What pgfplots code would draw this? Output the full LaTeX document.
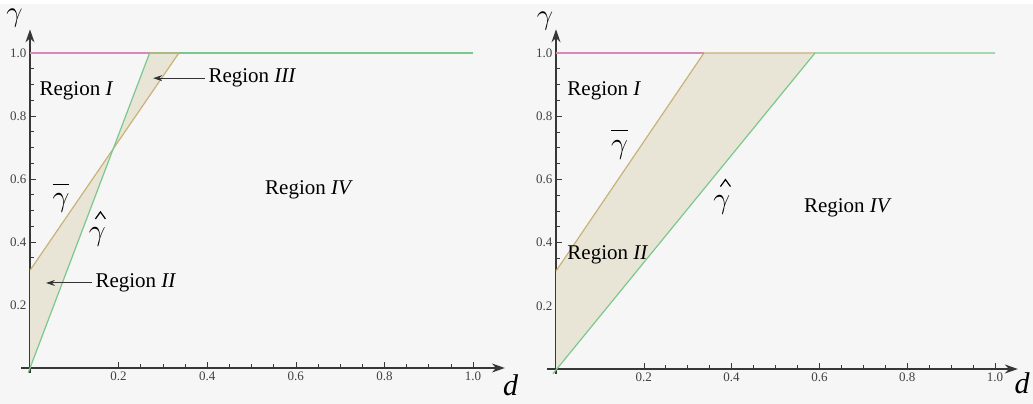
\documentclass[border=0pt]{standalone}
\usepackage{fontspec}
\setmainfont{Liberation Serif}
\usepackage{pgfplots}
\pgfplotsset{compat=1.18}
\usetikzlibrary{arrows.meta}
\definecolor{bg}{RGB}{246,246,246}
\definecolor{regfill}{RGB}{233,229,214}
\definecolor{tanline}{RGB}{200,178,122}
\definecolor{grnline}{RGB}{122,200,142}
\definecolor{pnkline}{RGB}{212,140,182}
\definecolor{axcol}{RGB}{55,55,55}
\newcommand{\gbar}{\scalebox{1.45}{$\overline{\vphantom{l}\gamma}$}}
\newcommand{\gam}{\scalebox{1.45}{$\gamma$}}
\tikzset{
  reg/.style={font=\fontsize{21}{24}\selectfont},
  gl/.style={font=\fontsize{20}{20}\selectfont, inner sep=0pt},
  hatmark/.style={line width=1.2pt, line join=miter, black},
}
\pgfplotsset{
  regionax/.style={
    axis lines=middle, clip=false,
    ymin=-0.015, ymax=1.075,
    axis line style={draw=axcol, line width=1.6pt},
    every inner x axis line/.append style={-{Stealth[length=13pt,width=9pt]}},
    every inner y axis line/.append style={-{Stealth[length=13pt,width=9pt]}},
    xtick={0.2,0.4,0.6,0.8,1.0}, ytick={0.2,0.4,0.6,0.8,1.0},
    minor x tick num=3, minor y tick num=3,
    tick align=inside,
    major tick length=6pt, minor tick length=3.5pt,
    every tick/.style={axcol, line width=0.6pt},
    tick label style={font=\fontsize{13}{13}\selectfont, text=black!75},
    /pgf/number format/assume math mode=true,
    /pgf/number format/fixed,
    /pgf/number format/fixed zerofill,
    /pgf/number format/precision=1,
  },
}
\begin{document}
\begin{tikzpicture}[x=1pt,y=1pt]
\fill[bg] (0,0) rectangle (1033,400);
\useasboundingbox (0,0) rectangle (1033,404);
% left panel
\begin{axis}[regionax, at={(30pt,36pt)}, anchor=origin,
  x=443pt, y=315pt, xmin=-0.02, xmax=1.072]
\addplot[fill=regfill, draw=none] coordinates {(0,0) (0,0.31) (0.186,0.69) (0,0)};
\addplot[fill=regfill, draw=none] coordinates {(0.186,0.69) (0.27,1) (0.336,1) (0.186,0.69)};
\addplot[tanline, line width=1.2pt] coordinates {(0,0.31) (0.336,1)};
\addplot[grnline, line width=1.2pt] coordinates {(-0.004,-0.015) (0.27,1)};
\addplot[pnkline, line width=1.2pt] coordinates {(0,1) (0.27,1)};
\addplot[tanline!60!grnline, line width=1.2pt] coordinates {(0.27,1) (0.336,1)};
\addplot[grnline, line width=1.2pt] coordinates {(0.336,1) (1,1)};
\node[reg] at (axis cs:0.105,0.88) {Region \textit{I}};
\node[reg, anchor=west] at (axis cs:0.395,0.92) {Region \textit{III}};
\draw[-{Stealth[length=9pt,width=6pt]}, line width=1pt, black!80] (axis cs:0.395,0.92) -- (axis cs:0.278,0.92);
\node[reg, anchor=west] at (axis cs:0.14,0.27) {Region \textit{II}};
\draw[-{Stealth[length=9pt,width=6pt]}, line width=1pt, black!80] (axis cs:0.14,0.27) -- (axis cs:0.036,0.27);
\node[reg] at (axis cs:0.63,0.565) {Region \textit{IV}};
\node[gl] at (axis cs:0.07,0.54) {\gbar};
\node[gl] at (axis cs:0.152,0.415) {\gam};
\draw[hatmark] (axis cs:0.159,0.486) ++(-5pt,-4pt) -- ++(5pt,7pt) -- ++(5pt,-7pt);
\node[font=\fontsize{30}{30}\selectfont\itshape] at (axis cs:1.085,-0.055) {d};
\node[font=\fontsize{20}{20}\selectfont] at (axis cs:-0.035,1.11) {\scalebox{1.4}{$\gamma$}};
\end{axis}
% right panel
\begin{axis}[regionax, at={(556pt,35pt)}, anchor=origin,
  x=439pt, y=316pt, xmin=-0.02, xmax=1.052]
\addplot[fill=regfill, draw=none] coordinates {(0,0) (0,0.31) (0.337,1) (0.59,1) (0,0)};
\addplot[tanline, line width=1.2pt] coordinates {(0,0.31) (0.337,1) (0.59,1)};
\addplot[grnline, line width=1.2pt] coordinates {(-0.007,-0.015) (0.59,1) (1,1)};
\addplot[pnkline, line width=1.2pt] coordinates {(0,1) (0.337,1)};
\node[reg] at (axis cs:0.11,0.88) {Region \textit{I}};
\node[reg] at (axis cs:0.118,0.36) {Region \textit{II}};
\node[reg] at (axis cs:0.665,0.51) {Region \textit{IV}};
\node[gl] at (axis cs:0.145,0.71) {\gbar};
\node[gl] at (axis cs:0.378,0.52) {\gam};
\draw[hatmark] (axis cs:0.386,0.59) ++(-5pt,-4pt) -- ++(5pt,7pt) -- ++(5pt,-7pt);
\node[font=\fontsize{30}{30}\selectfont\itshape] at (axis cs:1.062,-0.045) {d};
\node[font=\fontsize{20}{20}\selectfont] at (axis cs:-0.025,1.10) {\scalebox{1.4}{$\gamma$}};
\end{axis}
\end{tikzpicture}
\end{document}
